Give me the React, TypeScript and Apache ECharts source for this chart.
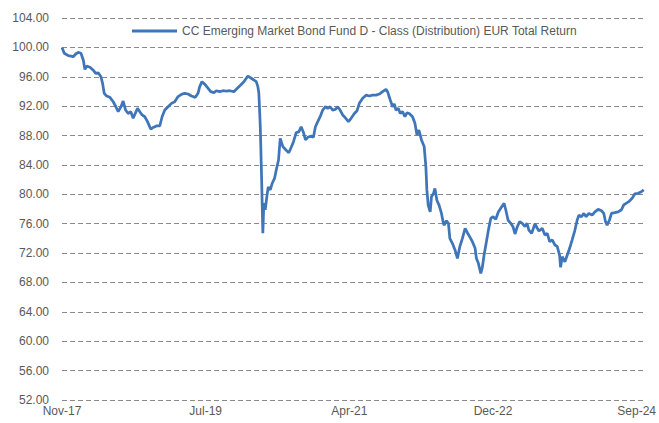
import React, { useEffect, useRef } from "react";
import * as echarts from "echarts";

const seriesName = "CC Emerging Market Bond Fund D - Class (Distribution) EUR Total Return";
const tickLabels = ["Nov-17", "Jul-19", "Apr-21", "Dec-22", "Sep-24"];
const labelStep = 20.25;
const xMax = 82;

// month offset from Nov-17 (x position) and value
const months = [
  0, 0.32, 0.89, 1.59, 1.93, 2.29, 2.67, 3.0, 3.23, 3.47, 3.94, 4.41, 4.74, 5.1, 5.49, 5.72, 5.95, 6.29, 6.75, 7.22,
  7.59, 7.92, 8.3, 8.62, 8.96, 9.32, 9.7, 10.03, 10.37, 10.65, 10.97, 11.29, 11.67, 12.05, 12.52, 12.84, 13.32, 13.78,
  14.11, 14.49, 14.95, 15.43, 15.89, 16.36, 16.84, 17.3, 17.76, 18.24, 18.8, 19.17, 19.41, 19.73, 20.11, 20.49,
  20.96, 21.42, 21.76, 22.22, 22.69, 23.16, 23.63, 24.23, 24.71, 25.18, 25.64, 26.2, 26.68, 27.05, 27.38, 27.61,
  27.75, 27.95, 28.13, 28.31, 28.45, 28.65, 28.87, 29.07, 29.35, 29.63, 29.96, 30.2, 30.52, 30.76, 31.13, 31.6,
  31.97, 32.31, 32.63, 33.01, 33.38, 33.71, 34.04, 34.32, 34.64, 35.12, 35.44, 35.72, 36.05, 36.39, 36.75, 37.13,
  37.45, 37.79, 38.16, 38.54, 38.86, 39.2, 39.56, 39.8, 40.37, 40.75, 41.21, 41.59, 41.91, 42.38, 42.86, 43.32,
  43.78, 44.26, 44.73, 45.19, 45.67, 45.89, 46.27, 46.6, 46.84, 47.07, 47.4, 47.68, 48.0, 48.34, 48.62, 48.95,
  49.41, 49.75, 50.03, 50.31, 50.67, 51.05, 51.29, 51.43, 51.62, 51.9, 52.08, 52.36, 52.56, 52.84, 53.16, 53.49,
  53.77, 53.87, 54.19, 54.47, 54.67, 55.04, 55.41, 55.74, 56.08, 56.44, 56.82, 57.14, 57.48, 57.85, 58.23, 58.41,
  58.69, 59.03, 59.25, 59.49, 59.82, 60.1, 60.44, 60.76, 61.14, 61.5, 61.84, 62.31, 62.55, 62.87, 63.25, 63.57,
  63.85, 64.18, 64.51, 64.88, 65.26, 65.54, 65.82, 66.2, 66.67, 66.99, 67.23, 67.69, 68.07, 68.4, 68.73, 69.1,
  69.48, 69.8, 70.14, 70.28, 70.51, 70.89, 71.21, 71.55, 71.91, 72.29, 72.62, 72.86, 73.23, 73.56, 73.88, 74.26,
  74.73, 75.11, 75.57, 76.05, 76.37, 76.61, 76.84, 77.17, 77.45, 77.92, 78.38, 78.86, 79.18, 79.51, 79.89, 80.36,
  80.73, 81.2, 81.67, 82.0,
];

const values = [
  100.0, 99.2, 98.87, 98.73, 99.1, 99.33, 99.2, 98.28, 97.0, 97.46, 97.3, 96.9, 96.47, 96.55, 96.0, 95.1, 93.75,
  93.38, 93.2, 92.6, 91.92, 91.25, 91.9, 92.7, 91.47, 91.0, 91.25, 90.35, 91.1, 91.7, 91.25, 90.8, 90.56, 89.9,
  88.85, 89.1, 89.3, 89.3,
  90.56, 91.47, 91.92, 92.38, 92.6, 93.3, 93.6, 93.75, 93.65, 93.38, 93.2, 93.75, 94.65, 95.33, 95.0, 94.56,
  93.97, 93.84, 94.1, 93.97, 94.1, 94.06, 94.1, 93.97, 94.43, 94.88, 95.33, 96.1, 95.8, 95.56, 95.33, 94.65,
  93.75, 89.2, 82.4, 74.7, 78.8, 77.9, 79.67, 81.0, 80.6, 81.5, 82.18, 83.3, 84.67, 87.6, 86.5, 86.0,
  85.66, 86.4, 87.16, 88.4, 88.5, 89.2, 88.4, 87.4, 87.76, 87.93, 87.76, 89.2, 89.9, 90.56, 91.47, 91.92,
  91.7, 91.92, 91.47, 91.56, 91.92, 91.47, 90.8, 90.56, 89.9, 90.35, 91.0, 91.38, 92.38, 93.07, 93.5, 93.38,
  93.5, 93.5, 93.65, 93.97, 94.3, 93.97, 92.84, 91.92, 92.3, 91.47, 91.7, 91.0, 91.25, 90.56, 91.1, 91.0,
  90.56, 89.66, 88.07, 88.75, 87.4, 86.5, 83.75, 80.6, 78.5, 77.6, 79.67, 80.1, 80.8, 79.2, 78.5, 77.4,
  76.0, 75.8, 76.4, 76.05, 74.0, 73.3, 72.4, 71.28, 72.9, 74.0, 75.37, 74.77, 74.2, 73.55, 72.65, 71.28,
  70.6, 69.24, 70.06, 71.7, 73.55, 75.1, 76.73, 76.95, 76.6, 77.6, 78.1, 78.77, 77.9, 76.5, 76.05, 75.6,
  74.6, 75.6, 76.27, 76.05, 75.6, 76.05, 75.1, 74.7, 76.0, 75.37, 75.0, 75.37, 74.45, 74.7, 73.55, 73.8,
  73.1, 72.9, 71.7, 70.06, 71.5, 70.8, 71.7, 72.65, 73.8, 75.1, 76.5, 77.17, 76.95, 77.4, 76.95, 77.4,
  77.17, 77.6, 77.95, 77.76, 77.4, 76.27, 75.8, 76.5, 77.4, 77.5, 77.6, 77.9, 78.55, 78.77, 79.0, 79.45,
  80.05, 80.13, 80.35, 80.6,
];

const textColor = "#595959";
const fontFamily = "'Liberation Sans', Arial, sans-serif";

export default function App() {
  const ref = useRef<HTMLDivElement>(null);
  useEffect(() => {
    if (!ref.current) return;
    const chart = echarts.init(ref.current, null, { renderer: "svg" });
    const data = months.map((m, i) => [m, values[i]]);
    chart.setOption({
      animation: false,
      textStyle: { fontFamily },
      grid: { left: 62, right: 14, top: 18, bottom: 23, containLabel: false },
      legend: {
        data: [seriesName],
        left: 132,
        top: 25,
        padding: 0,
        icon: "rect",
        itemWidth: 45,
        itemHeight: 3,
        textStyle: { color: textColor, fontSize: 12, fontFamily },
      },
      xAxis: {
        type: "value",
        min: 0,
        max: xMax,
        interval: labelStep,
        axisLine: { show: false },
        axisTick: { show: false },
        splitLine: { show: false },
        axisLabel: {
          color: textColor,
          fontSize: 12,
          margin: 5,
          showMaxLabel: false,
          formatter: (v: number) => {
            const i = v / labelStep;
            const r = Math.round(i);
            if (Math.abs(i - r) > 0.01) return "";
            return tickLabels[r] ?? "";
          },
        },
      },
      yAxis: {
        type: "value",
        min: 52,
        max: 104,
        interval: 4,
        axisLine: { show: false },
        axisTick: { show: false },
        axisLabel: {
          color: textColor,
          fontSize: 12,
          margin: 13,
          formatter: (v: number) => v.toFixed(2),
        },
        splitLine: {
          lineStyle: { color: "#8a8a8a", width: 1.2, type: [5, 3] },
        },
      },
      series: [
        {
          name: seriesName,
          type: "line",
          data,
          showSymbol: false,
          symbol: "none",
          lineStyle: { color: "#3F76BA", width: 2.75 },
          itemStyle: { color: "#3F76BA" },
        },
      ],
    });
    return () => chart.dispose();
  }, []);
  return <div ref={ref} style={{ width: 659, height: 423, position: "absolute", left: 0, top: 0 }} />;
}
